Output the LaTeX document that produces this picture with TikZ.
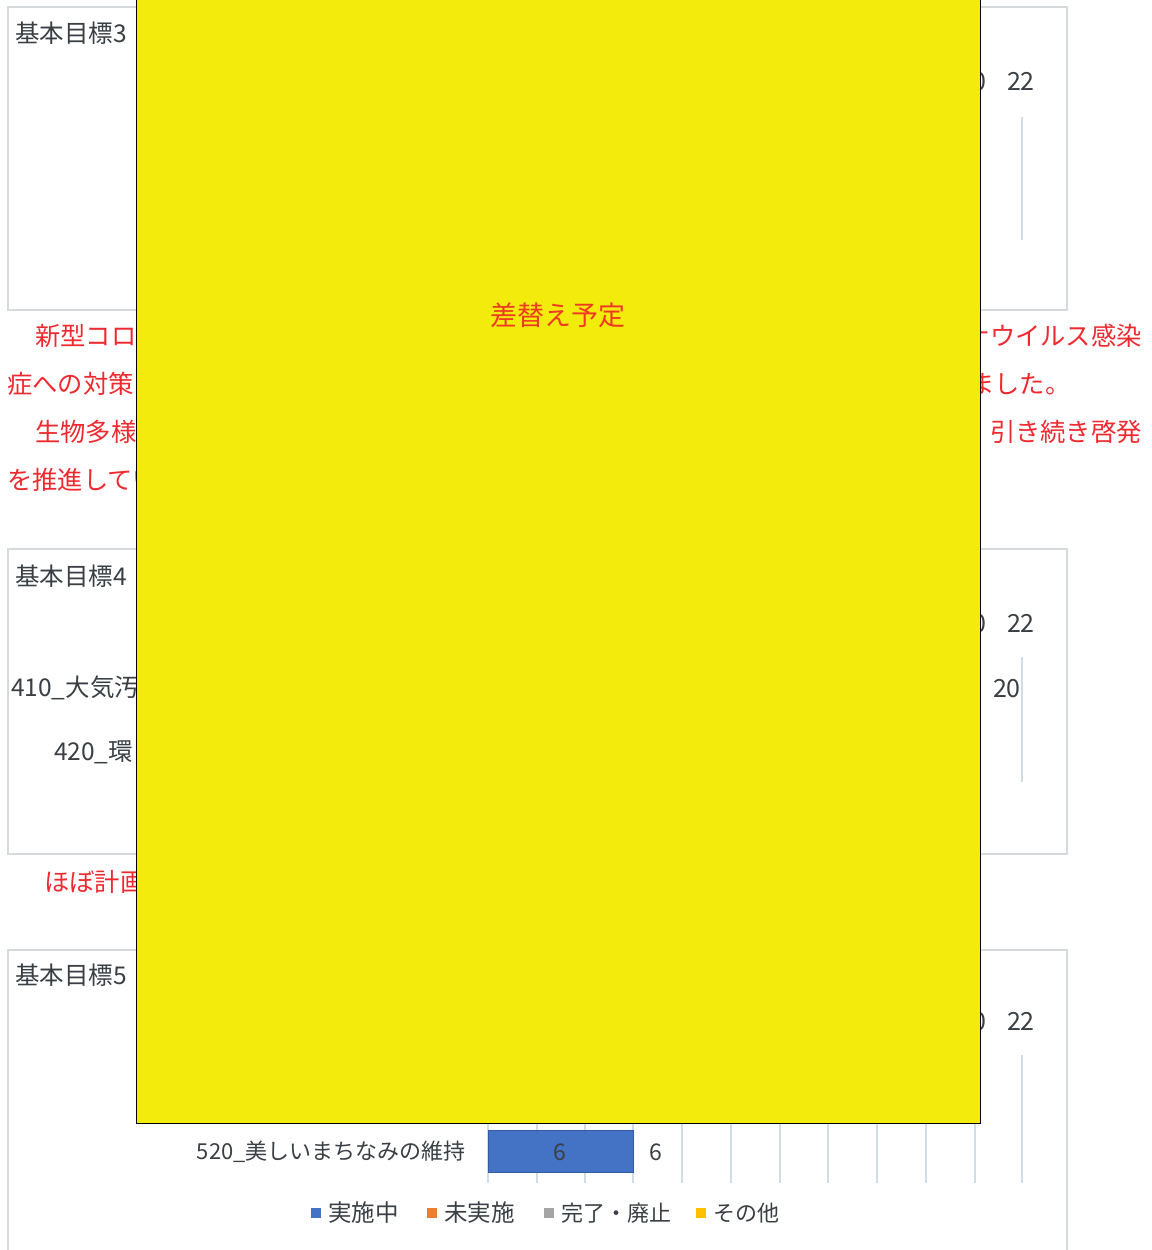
\documentclass[tikz,border=0pt]{standalone}
\usepackage{fontspec}
\newfontfamily\jp{Noto Sans CJK JP}
\definecolor{panelborder}{HTML}{D6D9DC}
\definecolor{gridc}{HTML}{D0DCE6}
\definecolor{chartText}{HTML}{3A3F44}
\definecolor{redText}{HTML}{EE2A30}
\definecolor{barBlue}{HTML}{4472C4}
\definecolor{legOrange}{HTML}{ED7D31}
\definecolor{legGray}{HTML}{A5A5A5}
\definecolor{legGold}{HTML}{FFC000}
\definecolor{coverYellow}{HTML}{F3EB0B}
\definecolor{coverRed}{HTML}{EE3A22}
\tikzset{
  panel/.style={draw=panelborder, line width=2pt, fill=white},
  ctext/.style={inner sep=0pt, font=\jp\fontsize{22}{26}\selectfont, text=chartText, anchor=base west},
  ttext/.style={inner sep=0pt, font=\jp\fontsize{24.5}{28}\selectfont, text=chartText, anchor=base west},
  ntext/.style={inner sep=0pt, font=\jp\fontsize{25}{28}\selectfont, text=chartText, anchor=base east},
  ctexte/.style={inner sep=0pt, font=\jp\fontsize{22}{26}\selectfont, text=chartText, anchor=base east},
  ctextc/.style={inner sep=0pt, font=\jp\fontsize{23}{26}\selectfont, text=chartText, anchor=base},
  rtext/.style={inner sep=0pt, font=\jp\fontsize{25.3}{30}\selectfont, text=redText, anchor=base west},
  rtexte/.style={inner sep=0pt, font=\jp\fontsize{25.3}{30}\selectfont, text=redText, anchor=base east},
  gridline/.style={draw=gridc, line width=1.2pt},
  legsq/.style={minimum size=10pt, inner sep=0pt},
  cover/.style={draw=black, line width=0.8pt, fill=coverYellow}
}
\begin{document}
\begin{tikzpicture}[x=1pt,y=-1pt]
\useasboundingbox (0,0) rectangle (1151,1250);
% ---------- panel 1
\draw[panel] (8,7) rectangle (1067,310);
\node[ttext] (t3) at (15,42) {基本目標3};
\node[ntext] (p1a) at (987,90) {20};
\node[ntext] (p1b) at (1035,90) {22};
\draw[gridline] (1022,117) -- (1022,240);
% ---------- red paragraph
\node[rtext] (r1l) at (9,345) {\hspace*{26pt}新型コロナ};
\node[rtexte] (r1r) at (1142,345) {ナウイルス感染};
\node[rtext] (r2l) at (7,393) {症への対策};
\node[rtext] (r2r) at (969,393) {ました。};
\node[rtext] (r3l) at (9,441) {\hspace*{26pt}生物多様};
\node[rtexte] (r3r) at (1142,441) {引き続き啓発};
\node[rtext] (r4l) at (7,489) {を推進してい};
% ---------- panel 2
\draw[panel] (8,549) rectangle (1067,854);
\node[ttext] (t4) at (15,585) {基本目標4};
\node[ttext] (l410) at (11,696) {410\_大気汚};
\node[ttext] (l420) at (54,760) {420\_環};
\node[ntext] (p2a) at (987,632) {20};
\node[ntext] (p2b) at (1035,632) {22};
\node[ntext] (p2c) at (1021,697) {20};
\draw[gridline] (1022,657) -- (1022,782);
\node[rtext] (r5) at (44,891) {ほぼ計画};
% ---------- panel 3
\draw[panel] (8,950) rectangle (1067,1252);
\node[ttext] (t5) at (15,984) {基本目標5};
\node[ntext] (p3a) at (987,1030) {20};
\node[ntext] (p3b) at (1035,1030) {22};
\foreach \gx in {537,585,633,682,731,780,828,877,926,975}
  \draw[gridline] (\gx,1115) -- (\gx,1183);
\draw[gridline] (1022,1055) -- (1022,1183);
\draw[gridline] (488,1115) -- (488,1183);
\node[fill=barBlue, draw=barBlue!80!black, line width=0.5pt, inner sep=0pt, minimum width=145pt, minimum height=42pt, anchor=north west] (bar) at (488,1130) {};
\node[ctextc] (barin) at (560,1160) {6};
\node[ctextc] (barout) at (656,1160) {6};
\node[ctexte] (l520) at (466,1159) {520\_美しいまちなみの維持};
% legend
\node[legsq, fill=barBlue] (s1) at (316,1213) {};
\node[ctext, anchor=west, font=\jp\fontsize{23.5}{26}\selectfont] (g1) at (328,1213) {実施中};
\node[legsq, fill=legOrange] (s2) at (432,1213) {};
\node[ctext, anchor=west, font=\jp\fontsize{23.5}{26}\selectfont] (g2) at (444,1213) {未実施};
\node[legsq, fill=legGray] (s3) at (549,1213) {};
\node[ctext, anchor=west] (g3) at (561,1213) {完了・廃止};
\node[legsq, fill=legGold] (s4) at (701,1213) {};
\node[ctext, anchor=west] (g4) at (713,1213) {その他};
% ---------- yellow cover
\draw[cover] (136,-2) rectangle (980,1123);
\node[inner sep=0pt, font=\jp\fontsize{27}{30}\selectfont, text=coverRed] (cv) at (558,315) {差替え予定};
\end{tikzpicture}
\end{document}
